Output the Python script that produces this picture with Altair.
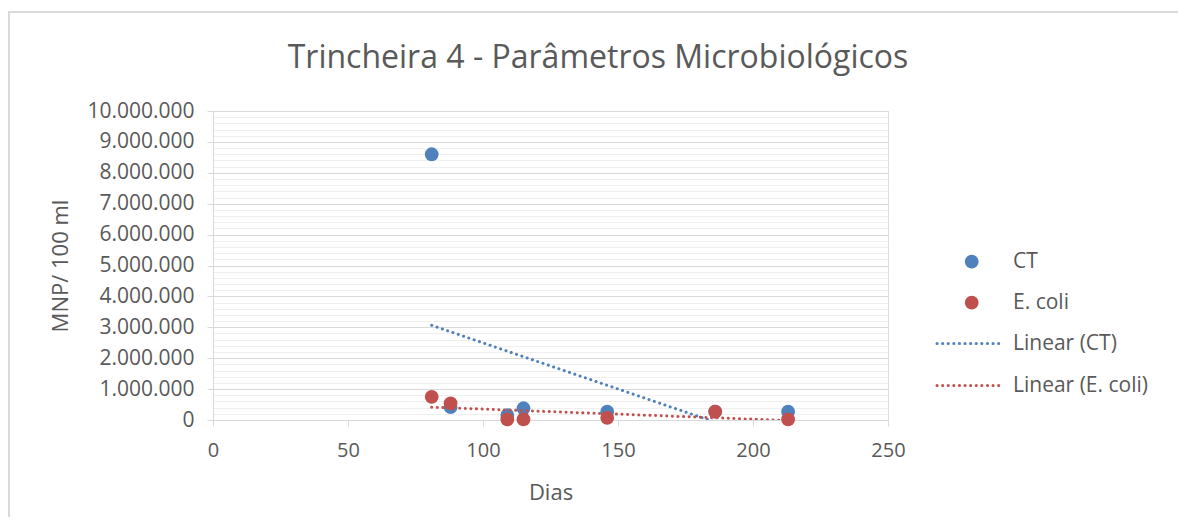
import altair as alt
import pandas as pd

# Data
days = [81, 88, 109, 115, 146, 186, 213]
ct = [8600000, 420000, 160000, 380000, 270000, 270000, 270000]
ecoli = [750000, 540000, 20000, 20000, 70000, 270000, 20000]
series_names = ["CT", "E. coli"]
colors = ["#4F81BD", "#C0504D"]
legend_labels = ["CT", "E. coli", "Linear (CT)", "Linear (E. coli)"]
title_text = "Trincheira 4 - Parâmetros Microbiológicos"
x_ticks = [0, 50, 100, 150, 200, 250]
y_ticks = list(range(0, 10000001, 200000))

df = pd.DataFrame({
    "Dias": days + days,
    "valor": ct + ecoli,
    "serie": ["CT"] * len(days) + ["E. coli"] * len(days),
})

FONT = "Open Sans"
GREY = "#595959"
MAJOR = "datum.value % 1000000 === 0"

color_scale = alt.Scale(domain=series_names, range=colors)
x_enc = alt.X("Dias:Q", scale=alt.Scale(domain=[0, 250], nice=False, zero=False),
              axis=alt.Axis(values=x_ticks, grid=False, title="Dias", titleFontSize=22,
                            titleFont=FONT, titleColor=GREY, titleFontWeight="normal",
                            titlePadding=22, labelFont=FONT, labelFontSize=20,
                            labelColor=GREY, labelPadding=14, tickSize=6, labelFlush=False,
                            tickColor="#d9d9d9", domainColor="#d9d9d9"))
y_enc = alt.Y("valor:Q", scale=alt.Scale(domain=[0, 10000000], nice=False, zero=False),
              axis=alt.Axis(values=y_ticks, tickCount=200, title="MNP/ 100 ml", titleFontSize=22,
                            titleFont=FONT, titleColor=GREY, titleFontWeight="normal",
                            titlePadding=14, labelOverlap=False, labelFlush=False,
                            labelExpr=MAJOR + " ? replace(format(datum.value, ','), regexp(',', 'g'), '.') : ''",
                            labelFont=FONT, labelFontSize=21, labelColor=GREY,
                            labelPadding=13, tickSize=6,
                            tickColor={"condition": {"test": MAJOR, "value": "#d9d9d9"}, "value": "transparent"},
                            gridColor={"condition": {"test": MAJOR, "value": "#d9d9d9"}, "value": "#efefef"},
                            domainColor="#d9d9d9"))

base = alt.Chart(df)

points = base.mark_circle(size=190, opacity=1).encode(
    x=x_enc, y=y_enc,
    color=alt.Color("serie:N", scale=color_scale, legend=None),
    order=alt.Order("serie:N"),
)

trend = base.transform_regression("Dias", "valor", groupby=["serie"]).mark_line(
    strokeDash=[0.1, 5.5], strokeCap="round", strokeWidth=3, clip=True
).encode(
    x="Dias:Q", y="valor:Q",
    color=alt.Color("serie:N", scale=color_scale, legend=None),
    detail="serie:N",
)

# manual legend
leg_pts = pd.DataFrame({"lab": legend_labels[:2], "col": colors, "yy": [150.7, 191.7]})
leg_lines = pd.DataFrame({"lab": legend_labels[2:], "col": colors, "yy": [232.5, 274.5]})
leg_text = pd.DataFrame({"lab": legend_labels, "yy": [150.7, 191.7, 232.5, 274.5]})

lp = alt.Chart(leg_pts).mark_circle(size=190, opacity=1).encode(
    x=alt.value(758.7), y=alt.Y("yy:Q", scale=None),
    color=alt.Color("col:N", scale=None),
)
ll = alt.Chart(leg_lines).mark_rule(strokeDash=[0.1, 5.5], strokeCap="round", strokeWidth=3).encode(
    x=alt.value(724), x2=alt.value(787), y=alt.Y("yy:Q", scale=None),
    color=alt.Color("col:N", scale=None),
)
lt = alt.Chart(leg_text).mark_text(align="left", baseline="middle", font=FONT,
                                    fontSize=21, color=GREY).encode(
    x=alt.value(800), y=alt.Y("yy:Q", scale=None), text="lab:N",
)

title = alt.Chart(pd.DataFrame({"t": [title_text]})).mark_text(
    align="center", baseline="middle", font=FONT, fontSize=32, color=GREY
).encode(x=alt.value(385), y=alt.value(-53), text="t:N")

border = alt.Chart(pd.DataFrame({"a": [0]})).mark_rect(
    fill=None, stroke="#d9d9d9", strokeWidth=2
).encode(x=alt.value(-204), x2=alt.value(1100), y=alt.value(-99), y2=alt.value(600))

chart = alt.layer(border, points, trend, lp, ll, lt, title).properties(
    width=675, height=309,
    padding={"left": 205, "top": 103, "right": 290, "bottom": 97},
    autosize=alt.AutoSizeParams(type="none"),
).configure_view(stroke=None).configure(background="white")

chart.save("out.html", embed_options={"renderer": "svg", "actions": False})
